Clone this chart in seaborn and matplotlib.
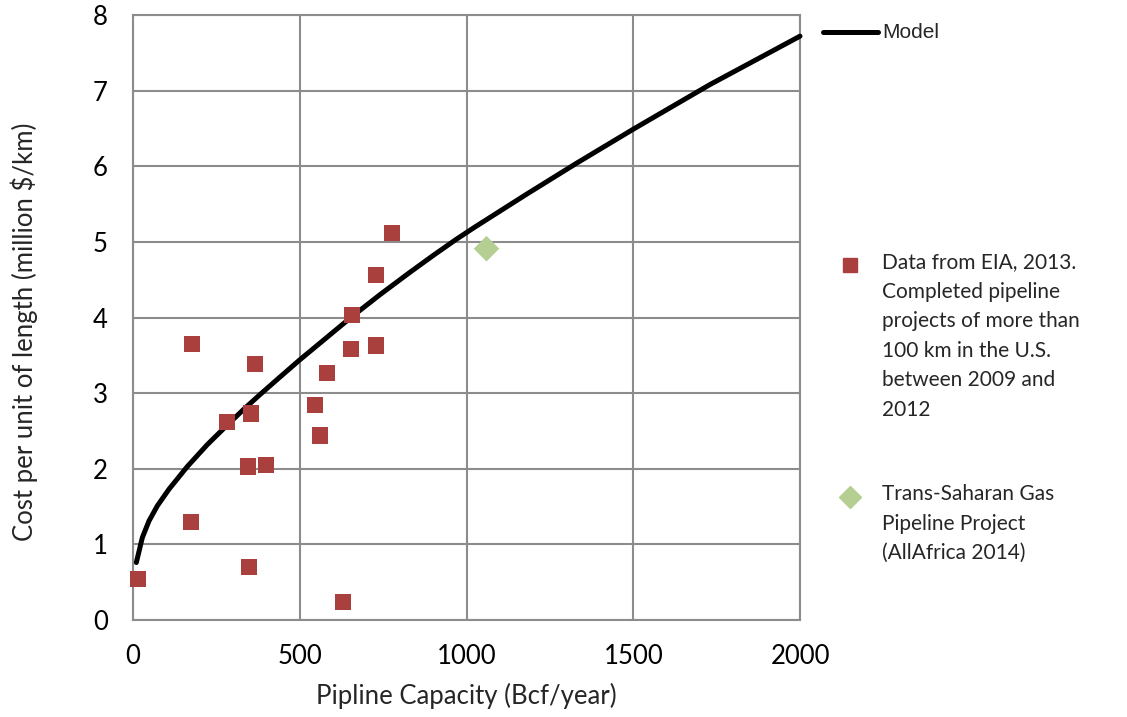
import matplotlib
matplotlib.use("Agg")
import matplotlib.pyplot as plt
from matplotlib.lines import Line2D
import seaborn as sns
import pandas as pd

# EIA pipeline projects (capacity Bcf/year, cost million $/km)
eia_capacity = [15, 177, 175, 282, 345, 348, 354, 366, 399, 546, 561, 583, 630, 654, 657, 729, 729, 777]
eia_cost = [0.54, 3.65, 1.30, 2.62, 2.03, 0.70, 2.73, 3.38, 2.05, 2.84, 2.44, 3.27, 0.24, 3.58, 4.03, 3.63, 4.56, 5.12]

# Trans-Saharan project
tsgp_capacity = [1060]
tsgp_cost = [4.91]

# model curve
model_capacity = [10, 28, 48, 73, 108, 163, 223, 283, 333, 378, 440, 500, 656, 740, 828, 900, 968,
                  1023, 1180, 1330, 1500, 1730, 2000]
model_cost = [0.76, 1.09, 1.31, 1.51, 1.73, 2.03, 2.32, 2.58, 2.79, 2.97, 3.21, 3.44, 4.01, 4.30, 4.59, 4.82, 5.03,
              5.19, 5.63, 6.04, 6.49, 7.08, 7.72]

x_ticks = [0, 500, 1000, 1500, 2000]
y_ticks = list(range(0, 9))

sns.set_style("white")
plt.rcParams['font.family'] = ['Lato', 'DejaVu Sans']

grid_color = "#8c8c8c"
red = "#a9403d"
green = "#b5cf93"

fig = plt.figure(figsize=(11.27, 7.17), dpi=100)
ax = fig.add_axes([133 / 1127, 1 - 620 / 717, 667 / 1127, 605 / 717])

eia = pd.DataFrame({"capacity": eia_capacity, "cost": eia_cost})
tsgp = pd.DataFrame({"capacity": tsgp_capacity, "cost": tsgp_cost})
model = pd.DataFrame({"capacity": model_capacity, "cost": model_cost})

sns.lineplot(data=model, x="capacity", y="cost", ax=ax, color="black", linewidth=3.6,
             solid_capstyle="round", solid_joinstyle="round", zorder=3, clip_on=False)
sns.scatterplot(data=eia, x="capacity", y="cost", ax=ax, marker="s", s=135, color=red,
                edgecolor="none", zorder=4, clip_on=False)
sns.scatterplot(data=tsgp, x="capacity", y="cost", ax=ax, marker="D", s=170, color=green,
                edgecolor="none", zorder=4, clip_on=False)

ax.set_xlim(0, 2000)
ax.set_ylim(0, 8)
ax.set_xticks(x_ticks)
ax.set_yticks(y_ticks)
ax.grid(True, color=grid_color, linewidth=1.5)
ax.set_axisbelow(True)
for sp in ax.spines.values():
    sp.set_color(grid_color)
    sp.set_linewidth(1.5)
ax.tick_params(axis="both", which="both", length=6, width=1.5, color=grid_color,
               labelsize=18.5, labelcolor="black", direction="out")
ax.tick_params(axis="x", pad=11)
ax.tick_params(axis="y", pad=12)

ax.set_xlabel("Pipline Capacity (Bcf/year)", fontsize=18.5, labelpad=10)
ax.set_ylabel("Cost per unit of length (million $/km)", fontsize=18.5)
ax.yaxis.set_label_coords(-0.143, 0.476)

# legend, laid out by hand to match the spacing
fig.add_artist(Line2D([823 / 1127, 878 / 1127], [1 - 32 / 717, 1 - 32 / 717],
                      color="black", linewidth=3.6, solid_capstyle="round"))
fig.text(882 / 1127, 1 - 32 / 717, "Model", fontsize=15, va="center", ha="left",
         family=["Liberation Sans", "DejaVu Sans"])

fig.add_artist(Line2D([850 / 1127], [1 - 265 / 717], marker="s", markersize=10.5,
                      color=red, linestyle="none"))
fig.text(882 / 1127, 1 - 252 / 717,
         "Data from EIA, 2013.\nCompleted pipeline\nprojects of more than\n100 km in the U.S.\nbetween 2009 and\n2012",
         fontsize=15, va="top", ha="left", linespacing=1.6)

fig.add_artist(Line2D([850 / 1127], [1 - 497 / 717], marker="D", markersize=11,
                      color=green, linestyle="none"))
fig.text(882 / 1127, 1 - 484 / 717,
         "Trans-Saharan Gas\nPipeline Project\n(AllAfrica 2014)",
         fontsize=15, va="top", ha="left", linespacing=1.6)

fig.savefig("out.png", dpi=100)
